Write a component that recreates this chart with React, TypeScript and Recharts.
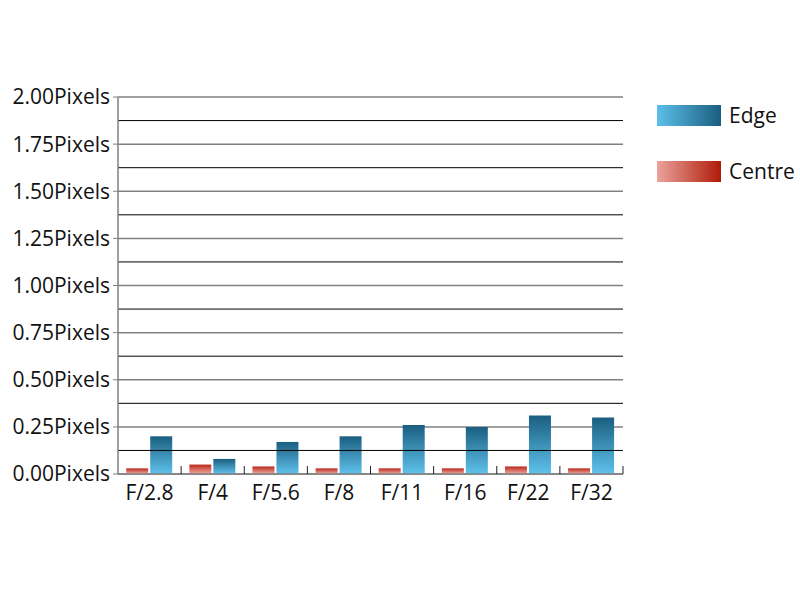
import React from 'react';
import { BarChart, Bar, XAxis, YAxis, CartesianGrid, ReferenceLine, Legend } from 'recharts';

const categories = ['F/2.8', 'F/4', 'F/5.6', 'F/8', 'F/11', 'F/16', 'F/22', 'F/32'];
const centreValues = [0.03, 0.05, 0.04, 0.03, 0.03, 0.03, 0.04, 0.03];
const edgeValues = [0.2, 0.08, 0.17, 0.2, 0.26, 0.25, 0.31, 0.3];
const yTicks = [0, 0.25, 0.5, 0.75, 1, 1.25, 1.5, 1.75, 2];
const minorGrid = [0.125, 0.375, 0.625, 0.875, 1.125, 1.375, 1.625, 1.875];
const legendOrder = ['Edge', 'Centre'];

const data = categories.map((c, i) => ({ name: c, Centre: centreValues[i], Edge: edgeValues[i] }));

const FONT = '"Open Sans", sans-serif';

const swatch: Record<string, string> = {
  Edge: 'linear-gradient(to right, #5cbfea, #1a5e7f)',
  Centre: 'linear-gradient(to right, #eaa39b, #b01a08)',
};

const LegendContent = () => (
  <div style={{ fontFamily: FONT, fontSize: 21, color: '#111' }}>
    {legendOrder.map((n, i) => (
      <div key={n} style={{ display: 'flex', alignItems: 'center', height: 21, marginBottom: i === 0 ? 35 : 0 }}>
        <div style={{ width: 64, height: 21, background: swatch[n], marginRight: 8 }} />
        <span style={{ lineHeight: '21px' }}>{n}</span>
      </div>
    ))}
  </div>
);

const CategoryTick = (props: any) => {
  const { x, y, payload } = props;
  const half = payload && typeof payload.offset === 'number' ? payload.offset : 0;
  return (
    <g>
      {half > 0 && (
        <line x1={x + half} x2={x + half} y1={y} y2={y - 8} stroke="#222" strokeWidth={1} />
      )}
      <text x={x} y={y + 11} dy="0.71em" textAnchor="middle" fill="#111" fontSize={21} fontFamily={FONT}>
        {payload.value}
      </text>
    </g>
  );
};

export default function App() {
  return (
    <div style={{ position: 'absolute', left: 0, top: 0, width: 800, height: 600, background: '#fff' }}>
      <BarChart
        width={800}
        height={600}
        data={data}
        margin={{ top: 97, right: 177, left: 0, bottom: 86 }}
        barCategoryGap="13%"
        barGap={2}
      >
        <defs>
          <linearGradient id="edgeGrad" x1="0" y1="0" x2="0" y2="1">
            <stop offset="0%" stopColor="#1a5e80" />
            <stop offset="100%" stopColor="#5fc2ec" />
          </linearGradient>
          <linearGradient id="centreGrad" x1="0" y1="0" x2="0" y2="1">
            <stop offset="0%" stopColor="#b8281a" />
            <stop offset="100%" stopColor="#f2aba2" />
          </linearGradient>
        </defs>
        <CartesianGrid vertical={false} stroke="#808080" strokeWidth={1.5} />
        {minorGrid.map((v) => (
          <ReferenceLine key={v} y={v} stroke="#000" strokeWidth={1} />
        ))}
        <XAxis
          dataKey="name"
          height={40}
          tickLine={false}
          tickSize={0}
          tickMargin={0}
          axisLine={{ stroke: '#808080', strokeWidth: 1.5 }}
          tick={CategoryTick}
          interval={0}
        />
        <YAxis
          width={118}
          domain={[0, 2]}
          ticks={yTicks}
          interval={0}
          tickFormatter={(v: number) => v.toFixed(2) + 'Pixels'}
          axisLine={{ stroke: '#808080', strokeWidth: 1.5 }}
          tickLine={{ stroke: '#808080' }}
          tickSize={5}
          tickMargin={3}
          tick={{ fill: '#111', fontSize: 21, fontFamily: FONT }}
        />
        <Legend
          layout="horizontal"
          verticalAlign="middle"
          align="center"
          content={LegendContent}
          wrapperStyle={{ position: 'absolute', top: 105, left: 657, width: 143 }}
        />
        <Bar dataKey="Centre" fill="url(#centreGrad)" isAnimationActive={false} />
        <Bar dataKey="Edge" fill="url(#edgeGrad)" isAnimationActive={false} />
      </BarChart>
    </div>
  );
}
